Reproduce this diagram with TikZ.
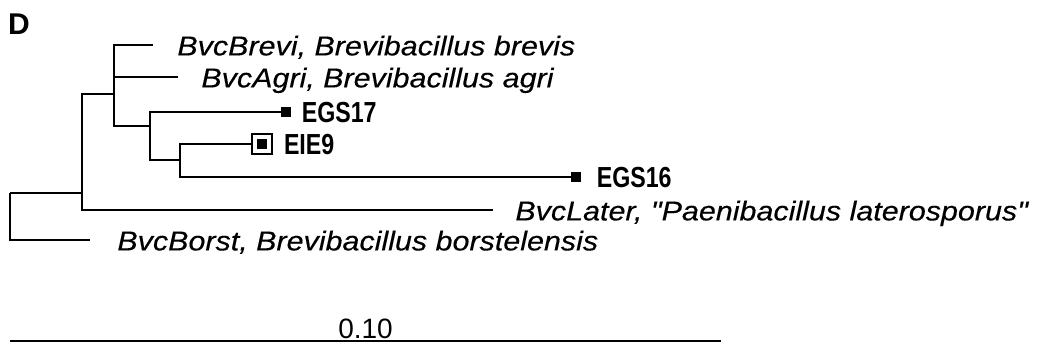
\documentclass[tikz,border=0pt]{standalone}
\usepackage{fontspec}
\setmainfont{Liberation Sans}
\newfontfamily\taxfont{Liberation Sans}[FakeStretch=1.12,FakeBold=0.3,Ligatures=TeXOff]
\newfontfamily\isofont{Liberation Sans}[FakeStretch=0.8]
\usetikzlibrary{positioning}

\begin{document}
\begin{tikzpicture}[
x=0.5pt,y=-0.5pt,
br/.style={line width=0.9pt},
tip/.style={rectangle,fill=black,inner sep=0pt,minimum size=5pt},
frame/.style={rectangle,draw,line width=0.6pt,inner sep=0pt,minimum size=10pt},
tax/.style={font=\taxfont\itshape\fontsize{13.6}{16}\selectfont,inner sep=0pt,anchor=base west,yshift=-5.2pt},
iso/.style={font=\isofont\bfseries\fontsize{14.5}{17}\selectfont,inner sep=0pt,anchor=base west,yshift=-5.2pt},
scl/.style={font=\fontsize{14}{16}\selectfont,inner sep=0.5pt}
]
\useasboundingbox (0,0) rectangle (1037,346);
\node[font=\bfseries\fontsize{15}{17}\selectfont,inner sep=0pt] (panel) at (19,24) {D};
\coordinate (root) at (10,193);
\coordinate (n1) at (82,193);
\coordinate (n2) at (114,94);
\coordinate (n3) at (150,126);
\coordinate (n4) at (180,160);
\coordinate (brevi) at (153,45);
\coordinate (agri) at (178,77);
\coordinate (later) at (493,210);
\coordinate (borst) at (90,240);
\node[tip] (egs17) at (286,112) {};
\node[frame] (eie9) at (262,144) {};
\node[tip] (eie9dot) at (eie9) {};
\node[tip] (egs16) at (576,177) {};
\draw[br] (root) |- (n1);
\draw[br] (root) |- (borst);
\draw[br] (n1) |- (n2);
\draw[br] (n1) |- (later);
\draw[br] (n2) |- (brevi);
\draw[br] (n2) |- (agri);
\draw[br] (n2) |- (n3);
\draw[br] (n3) |- (egs17);
\draw[br] (n3) |- (n4);
\draw[br] (n4) |- (eie9);
\draw[br] (n4) |- (egs16);
\node[right=12pt of brevi,tax] (brevilab) {BvcBrevi, Brevibacillus brevis};
\node[right=11.5pt of agri,tax] (agrilab) {BvcAgri, Brevibacillus agri};
\node[right=11pt of later,tax] (laterlab) {BvcLater, "Paenibacillus laterosporus"};
\node[right=13.5pt of borst,tax] (borstlab) {BvcBorst, Brevibacillus borstelensis};
\node[right=5pt of egs17,iso] (egs17lab) {EGS17};
\node[right=5.5pt of eie9,iso] (eie9lab) {EIE9};
\node[right=7.5pt of egs16,iso] (egs16lab) {EGS16};
\coordinate (bar0) at (10,341);
\coordinate (bar1) at (721,341);
\draw[br] (bar0) -- node[scl,above] (barlab) {0.10} (bar1);
\end{tikzpicture}
\end{document}
